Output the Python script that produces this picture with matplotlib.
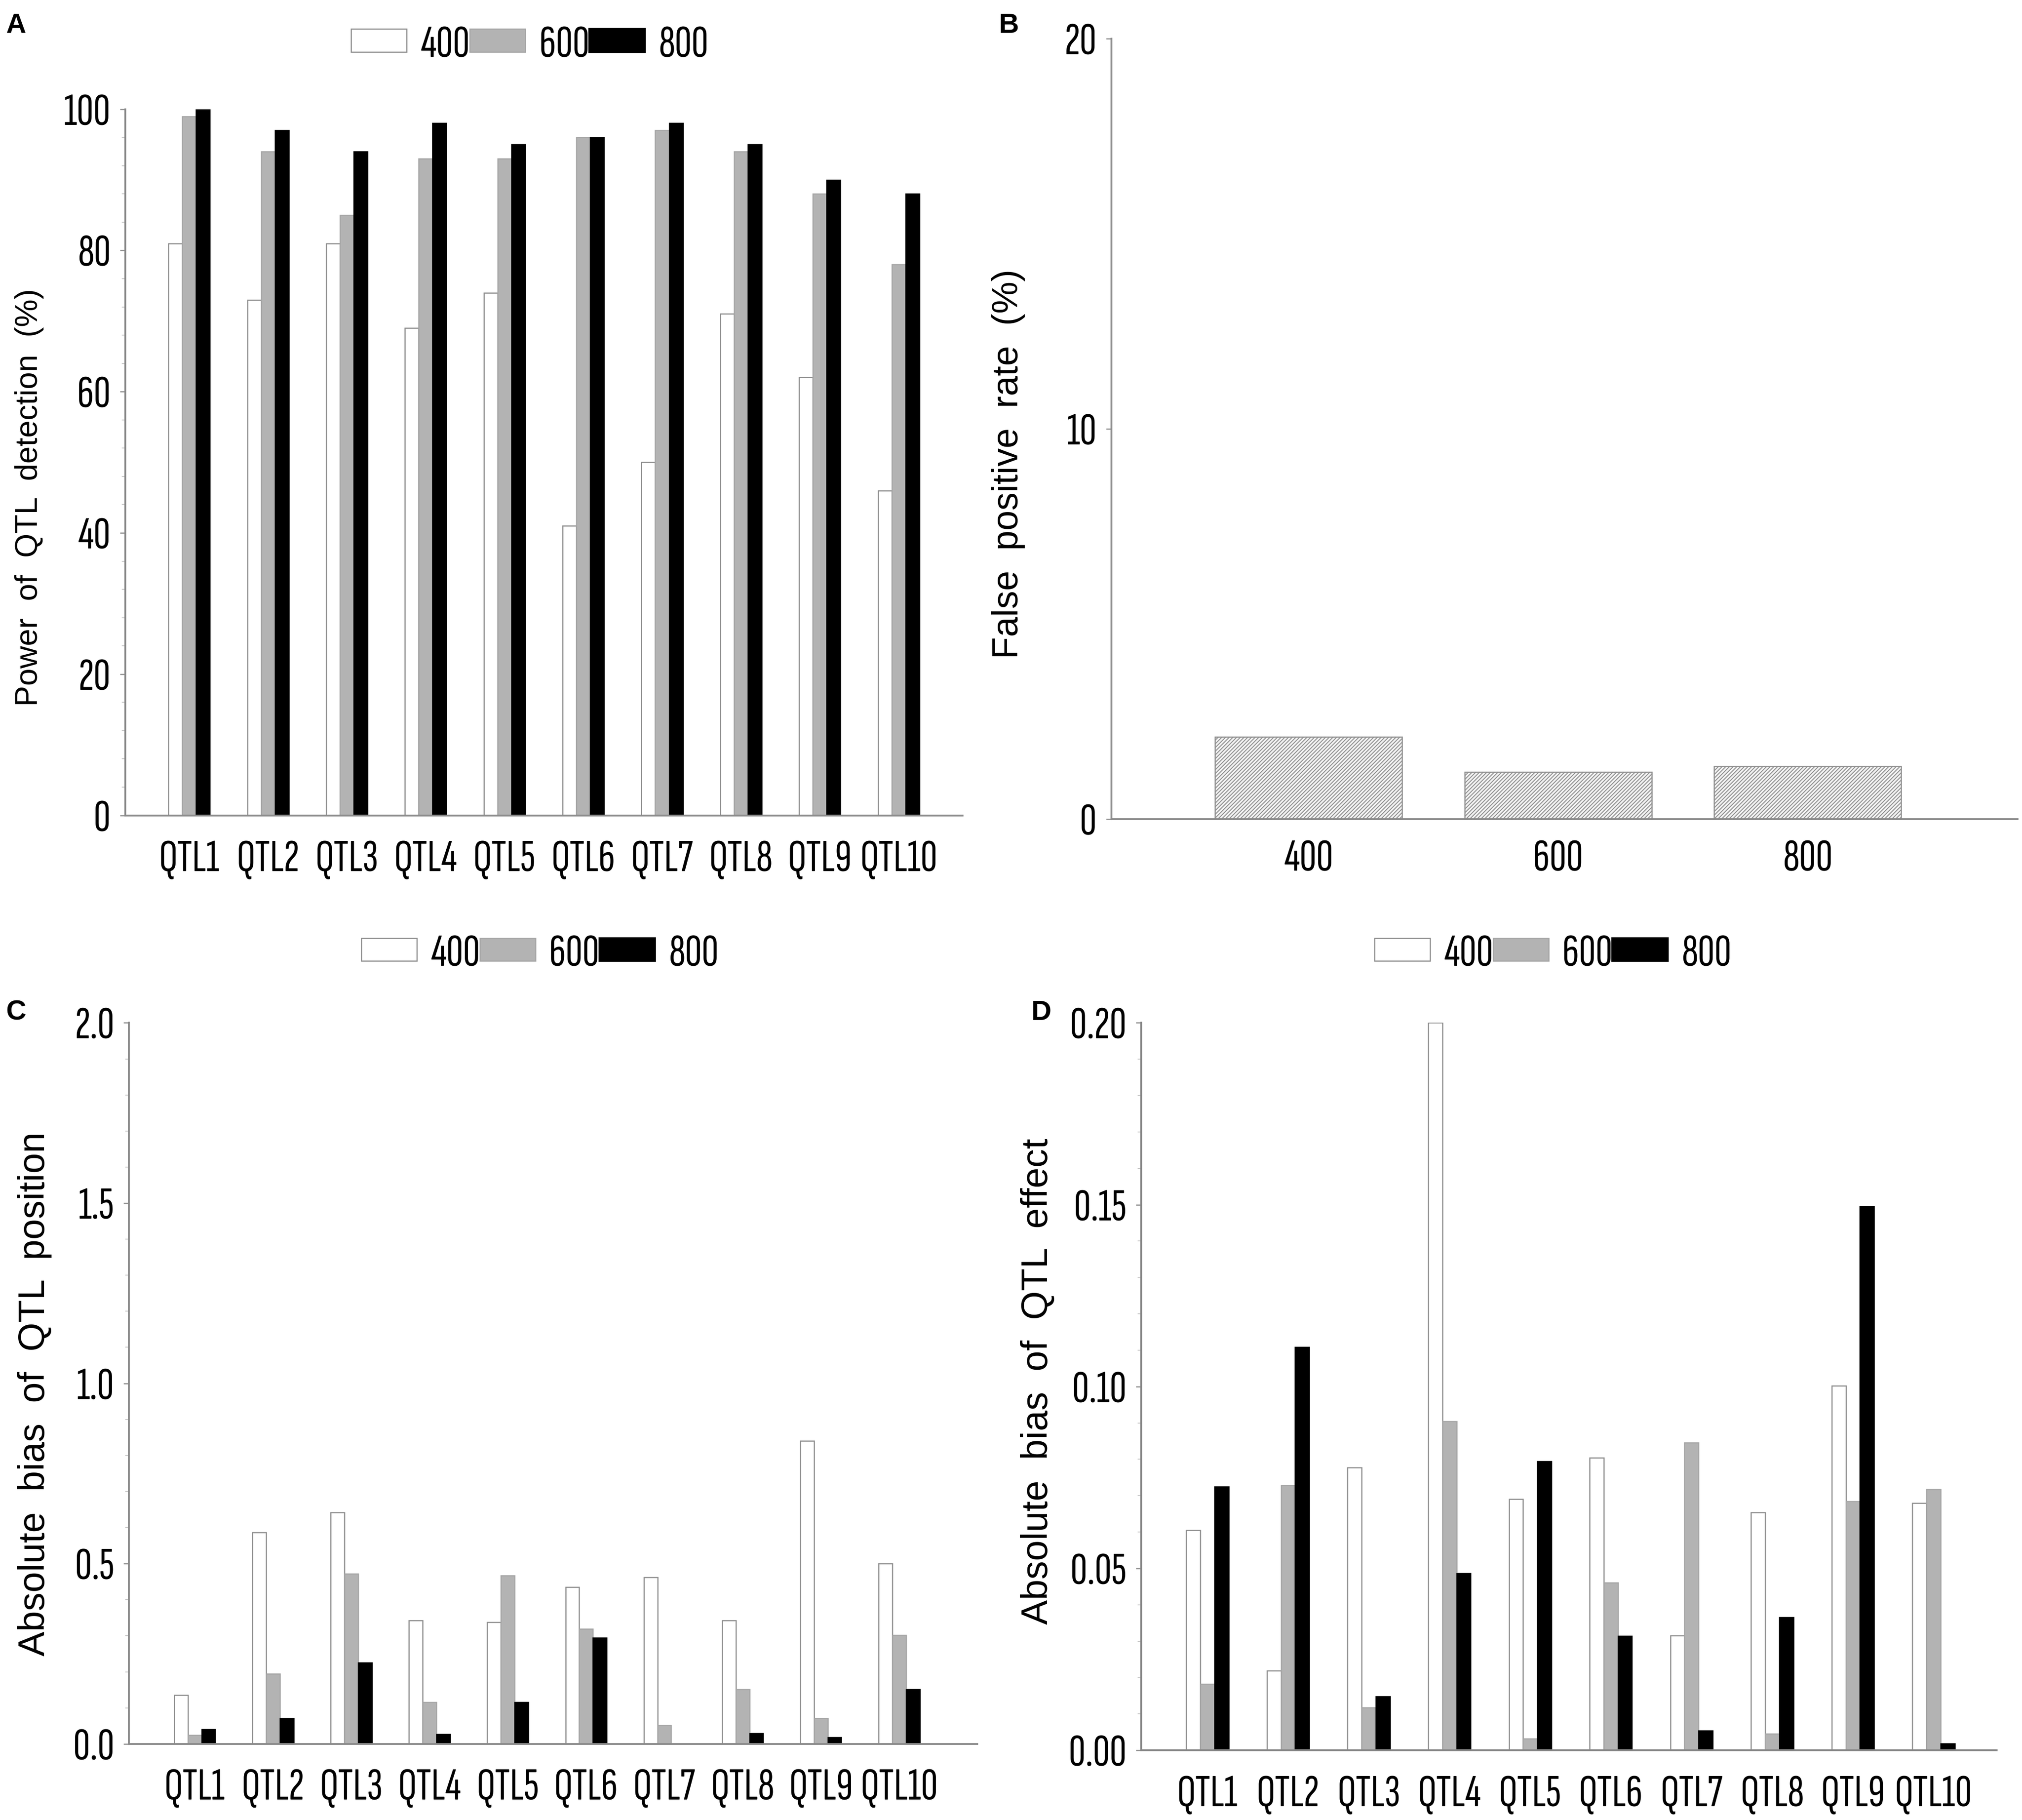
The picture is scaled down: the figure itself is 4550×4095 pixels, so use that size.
import matplotlib.pyplot as plt
import numpy as np
from matplotlib.ticker import AutoMinorLocator, MultipleLocator
from matplotlib.patches import Patch

plt.rcParams['font.family'] = ['Sofia Sans Extra Condensed', 'Roboto Condensed', 'DejaVu Sans']
plt.rcParams['hatch.linewidth'] = 0.5

qtl = ['QTL1', 'QTL2', 'QTL3', 'QTL4', 'QTL5', 'QTL6', 'QTL7', 'QTL8', 'QTL9', 'QTL10']
sizes = ['400', '600', '800']

# A: power of QTL detection (%)
power_400 = [81, 73, 81, 69, 74, 41, 50, 71, 62, 46]
power_600 = [99, 94, 85, 93, 93, 96, 97, 94, 88, 78]
power_800 = [100, 97, 94, 98, 95, 96, 98, 95, 90, 88]

# B: false positive rate (%)
fpr = [2.1, 1.2, 1.35]

# C: absolute bias of QTL position
pos_400 = [0.136, 0.587, 0.642, 0.342, 0.337, 0.435, 0.462, 0.343, 0.841, 0.500]
pos_600 = [0.024, 0.194, 0.472, 0.116, 0.467, 0.319, 0.051, 0.152, 0.071, 0.302]
pos_800 = [0.040, 0.071, 0.225, 0.027, 0.116, 0.294, 0.0, 0.029, 0.018, 0.151]

# D: absolute bias of QTL effect
eff_400 = [0.0605, 0.0219, 0.0777, 0.200, 0.0690, 0.0804, 0.0316, 0.0654, 0.1002, 0.0680]
eff_600 = [0.0182, 0.0728, 0.0118, 0.0905, 0.0032, 0.0461, 0.0846, 0.0046, 0.0685, 0.0717]
eff_800 = [0.0725, 0.1108, 0.0148, 0.0487, 0.0795, 0.0314, 0.0054, 0.0366, 0.1496, 0.0019]

GRID = '#8a8a8a'
WHITE_EDGE = '#8c8c8c'
GREY = '#b3b3b3'
TICK_FS = 25
LABEL_FONT = ['Liberation Sans', 'DejaVu Sans']

fig = plt.figure(figsize=(4550 / 300, 4095 / 300), dpi=300)


def style_axes(ax, xpad=13):
    for s in ['top', 'right']:
        ax.spines[s].set_visible(False)
    for s in ['left', 'bottom']:
        ax.spines[s].set_color(GRID)
        ax.spines[s].set_linewidth(1.0)
    ax.tick_params(axis='y', which='major', direction='out', length=3, width=0.6,
                   color=GRID, labelsize=TICK_FS, pad=5)
    ax.tick_params(axis='y', which='minor', direction='out', length=2, width=0.5, color='#c8c8c8')
    ax.tick_params(axis='x', length=0, labelsize=TICK_FS, pad=xpad)


def grouped(ax, a, b, c, xlim, ylim, ystep, yfmt, ylabel, labsize, labpos):
    x = np.arange(len(qtl))
    w = 0.175
    ax.bar(x - w, a, w, facecolor='white', edgecolor=WHITE_EDGE, linewidth=0.6)
    ax.bar(x, b, w, facecolor=GREY, edgecolor='#a5a5a5', linewidth=0.6)
    ax.bar(x + w, c, w, facecolor='black', edgecolor='black', linewidth=0.6)
    ax.set_xlim(*xlim)
    ax.set_ylim(*ylim)
    ax.set_xticks(x)
    ax.set_xticklabels(qtl)
    ax.yaxis.set_major_locator(MultipleLocator(ystep))
    ax.yaxis.set_minor_locator(AutoMinorLocator(5))
    ax.set_yticklabels([yfmt.format(v) for v in ax.get_yticks()])
    ax.set_ylim(*ylim)
    style_axes(ax)
    ax.set_ylabel(ylabel, fontsize=labsize, family=LABEL_FONT)
    ax.yaxis.set_label_coords(*labpos)


def legend(cx, cy):
    handles = [Patch(facecolor='white', edgecolor=WHITE_EDGE, linewidth=0.6),
               Patch(facecolor=GREY, edgecolor='#a5a5a5', linewidth=0.6),
               Patch(facecolor='black', edgecolor='black')]
    fig.legend(handles, sizes, loc='center', bbox_to_anchor=(cx, cy), ncol=3, frameon=False,
               fontsize=TICK_FS, handlelength=1.2, handleheight=0.38, handletextpad=0.3,
               columnspacing=0.0, borderpad=0)


# panel A
axA = fig.add_axes([0.062, 0.552, 0.414, 0.388])
grouped(axA, power_400, power_600, power_800, (-0.81, 9.81), (0, 100), 20, '{:.0f}',
        'Power  of  QTL  detection  (%)', 16.8, (-0.097, 0.45))
legend(0.262, 0.975)

# panel B
axB = fig.add_axes([0.5497, 0.55, 0.448, 0.4287])
xb = np.arange(len(sizes))
axB.bar(xb, fpr, 0.75, facecolor='#f4f4f4', edgecolor='#8f8f8f', hatch='////////////',
        linewidth=0.6)
axB.set_xlim(-0.79, 2.84)
axB.set_ylim(0, 20)
axB.set_xticks(xb)
axB.set_xticklabels(sizes)
axB.set_yticks([0, 10, 20])
style_axes(axB, xpad=11)
axB.set_ylabel('False  positive  rate  (%)', fontsize=19.5, family=LABEL_FONT)
axB.yaxis.set_label_coords(-0.095, 0.455)

# panel C
axC = fig.add_axes([0.0638, 0.0418, 0.4196, 0.3962])
grouped(axC, pos_400, pos_600, pos_800, (-0.84, 10.0), (0, 2.0), 0.5, '{:.1f}',
        'Absolute  bias  of  QTL  position', 20, (-0.091, 0.485))
legend(0.267, 0.4755)

# panel D
axD = fig.add_axes([0.5644, 0.0383, 0.423, 0.3997])
grouped(axD, eff_400, eff_600, eff_800, (-0.82, 9.78), (0, 0.2), 0.05, '{:.2f}',
        'Absolute  bias  of  QTL  effect', 20, (-0.101, 0.507))
legend(0.768, 0.4755)

for letter, px, py in [('A', 0.003, 0.986), ('B', 0.494, 0.986),
                       ('C', 0.003, 0.4437), ('D', 0.510, 0.4437)]:
    fig.text(px, py, letter, fontsize=15, fontweight='bold', family=LABEL_FONT,
             ha='left', va='center')

fig.savefig('out.png', dpi=300, facecolor='white')
